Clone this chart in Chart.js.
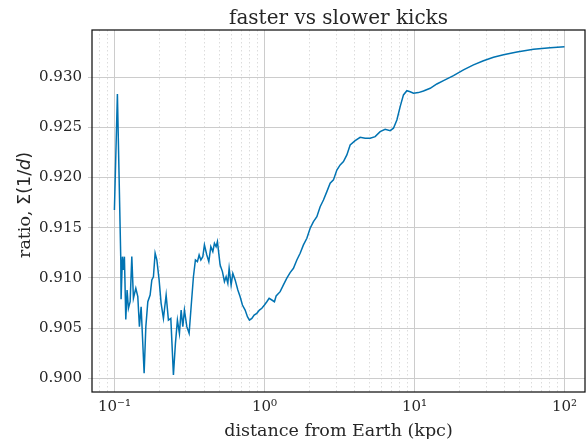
<!DOCTYPE html>
<html>
<head>
<meta charset="utf-8">
<script src="https://cdn.jsdelivr.net/npm/chart.js@4"></script>
<style>
html, body { margin: 0; padding: 0; background: #fff; }
</style>
</head>
<body>
<canvas id="c" width="588" height="439"></canvas>
<script>
// faster vs slower kicks - ratio vs distance (log x)

const distKpc = [
  0.1000, 0.1047, 0.1103, 0.1108, 0.1131, 0.1148, 0.1166, 0.1191, 0.1215, 0.1240,
  0.1273, 0.1306, 0.1339, 0.1389, 0.1432, 0.1468, 0.1507, 0.1578, 0.1620, 0.1670,
  0.1730, 0.1776, 0.1820, 0.1868, 0.1918, 0.1986, 0.2048, 0.2122, 0.2212, 0.2291,
  0.2377, 0.2474, 0.2551, 0.2630, 0.2713, 0.2785, 0.2858, 0.2929, 0.3039, 0.3148,
  0.3246, 0.3363, 0.3467, 0.3575, 0.3670, 0.3767, 0.3884, 0.3981, 0.4130, 0.4259,
  0.4392, 0.4529, 0.4642, 0.4764, 0.4860, 0.5066, 0.5248, 0.5412, 0.5555, 0.5702,
  0.5817, 0.5998, 0.6157, 0.6379, 0.6649, 0.6887, 0.7134, 0.7436, 0.7704, 0.7943,
  0.8241, 0.8540, 0.8897, 0.9261, 0.9609, 1.0000, 1.0375, 1.0748, 1.1203, 1.1659,
  1.1967, 1.2727, 1.3385, 1.4101, 1.4834, 1.5610, 1.6444, 1.7298, 1.8197, 1.9175,
  2.0170, 2.1221, 2.2356, 2.3515, 2.4738, 2.6062, 2.7416, 2.8840, 3.0392, 3.1971,
  3.3630, 3.5433, 3.7275, 4.0240, 4.3451, 4.6924, 5.0657, 5.4702, 5.9062, 6.3780,
  6.8865, 7.2444, 7.6338, 8.0297, 8.4468, 8.9001, 9.3623, 9.8477, 10.63, 11.48,
  12.73, 14.10, 15.61, 18.20, 21.22, 24.74, 28.84, 33.63, 39.21, 48.17,
  62.13, 80.28, 100.0
];

const ratio = [
  0.91677, 0.92834, 0.91179, 0.90787, 0.91212, 0.91080, 0.91212, 0.90587, 0.90879, 0.90697,
  0.90763, 0.91212, 0.90797, 0.90897, 0.90813, 0.90514, 0.90713, 0.90049, 0.90514, 0.90763,
  0.90830, 0.90980, 0.91012, 0.91246, 0.91179, 0.90980, 0.90747, 0.90597, 0.90830, 0.90580,
  0.90597, 0.90032, 0.90348, 0.90580, 0.90447, 0.90680, 0.90514, 0.90680, 0.90514, 0.90447,
  0.90713, 0.91012, 0.91179, 0.91162, 0.91229, 0.91179, 0.91212, 0.91329, 0.91229, 0.91162,
  0.91312, 0.91262, 0.91345, 0.91312, 0.91362, 0.91129, 0.91063, 0.90963, 0.91012, 0.90946,
  0.91096, 0.90930, 0.91046, 0.90980, 0.90880, 0.90813, 0.90730, 0.90680, 0.90613, 0.90580,
  0.90597, 0.90630, 0.90647, 0.90680, 0.90697, 0.90730, 0.90763, 0.90797, 0.90780, 0.90763,
  0.90820, 0.90863, 0.90930, 0.90997, 0.91053, 0.91096, 0.91179, 0.91246, 0.91329, 0.91395,
  0.91495, 0.91561, 0.91611, 0.91710, 0.91777, 0.91860, 0.91944, 0.91977, 0.92076, 0.92126,
  0.92159, 0.92226, 0.92325, 0.92368, 0.92402, 0.92392, 0.92392, 0.92408, 0.92458, 0.92482,
  0.92468, 0.92492, 0.92574, 0.92707, 0.92824, 0.92866, 0.92856, 0.92841, 0.92847, 0.92863,
  0.92890, 0.92933, 0.92966, 0.93016, 0.93073, 0.93123, 0.93165, 0.93199, 0.93225, 0.93252,
  0.93279, 0.93295, 0.93305
];

const yTicks = [0.900, 0.905, 0.910, 0.915, 0.920, 0.925, 0.930];
const xMajor = [0.1, 1, 10, 100];
const xMajorText = ['10⁻¹', '10⁰', '10¹', '10²'];
const chartTitle = 'faster vs slower kicks';

// minor grid positions (2..9 per decade) inside the visible range
const xMinor = [];
for (const dec of [0.01, 0.1, 1, 10]) {
  for (let k = 2; k <= 9; k++) {
    const v = +(k * dec).toPrecision(3);
    if (v > 0.071 && v < 137) xMinor.push(v);
  }
}

const serif = '"DejaVu Serif", serif';
const sans = '"DejaVu Sans", sans-serif';
const textColor = '#262626';

// black frame round the plot area + title centred over the axes
const frame = {
  id: 'frame',
  afterDatasetsDraw(chart) {
    const { ctx, chartArea: a } = chart;
    ctx.save();
    ctx.strokeStyle = '#111';
    ctx.lineWidth = 1.25;
    ctx.strokeRect(a.left, a.top, a.right - a.left, a.bottom - a.top);
    ctx.fillStyle = textColor;
    ctx.font = '20px ' + serif;
    ctx.textAlign = 'center';
    ctx.textBaseline = 'alphabetic';
    ctx.fillText(chartTitle, (a.left + a.right) / 2, a.top - 6);
    ctx.restore();
  }
};

// y label with an italic d
const yTitle = {
  id: 'yTitle',
  afterDraw(chart) {
    const { ctx, chartArea: a } = chart;
    const parts = [
      ['ratio, ', '17.5px ' + serif],
      ['Σ(1/', '17.5px ' + sans],
      ['d', 'oblique 17.5px ' + sans],
      [')', '17.5px ' + sans]
    ];
    ctx.save();
    ctx.fillStyle = textColor;
    ctx.textBaseline = 'middle';
    ctx.textAlign = 'left';
    let w = 0;
    for (const [t, f] of parts) { ctx.font = f; w += ctx.measureText(t).width; }
    ctx.translate(25, (a.top + a.bottom) / 2 - 6);
    ctx.rotate(-Math.PI / 2);
    let x = -w / 2;
    for (const [t, f] of parts) {
      ctx.font = f;
      ctx.fillText(t, x, 0);
      x += ctx.measureText(t).width;
    }
    ctx.restore();
  }
};

new Chart(document.getElementById('c').getContext('2d'), {
  type: 'scatter',
  data: {
    datasets: [{
      data: distKpc.map((d, i) => ({ x: d, y: ratio[i] })),
      showLine: true,
      borderColor: '#0173b2',
      borderWidth: 1.5,
      pointRadius: 0,
      tension: 0
    }]
  },
  options: {
    responsive: false,
    animation: false,
    layout: { padding: { left: 0, right: 3, top: 30, bottom: 0 } },
    plugins: {
      legend: { display: false },
      tooltip: { enabled: false },
      title: { display: false }
    },
    scales: {
      x: {
        type: 'logarithmic',
        min: 0.0709,
        max: 137,
        afterBuildTicks(scale) {
          scale.ticks = xMajor.map(v => ({ value: v, major: true }))
            .concat(xMinor.map(v => ({ value: v, major: false })));
        },
        afterFit(scale) { scale.height = 47; },
        ticks: {
          autoSkip: false,
          maxRotation: 0,
          padding: 6,
          color: textColor,
          font: { family: serif, size: 15 },
          callback: v => {
            const i = xMajor.indexOf(v);
            return i >= 0 ? xMajorText[i] : '';
          }
        },
        grid: {
          drawTicks: false,
          color: c => (c.tick && c.tick.major) ? '#cccccc' : '#dcdcdc',
          lineWidth: 1
        },
        border: {
          display: false,
          dash: c => (c.tick && !c.tick.major) ? [1.5, 2.5] : []
        },
        title: {
          display: true,
          text: 'distance from Earth (kpc)',
          color: textColor,
          font: { family: serif, size: 17.5 },
          padding: { top: 0, bottom: -3 }
        }
      },
      y: {
        min: 0.89863,
        max: 0.93471,
        afterBuildTicks(scale) {
          scale.ticks = yTicks.map(v => ({ value: v }));
        },
        afterFit(scale) { scale.width = 92; },
        ticks: {
          padding: 6,
          color: textColor,
          font: { family: serif, size: 15 },
          callback: v => v.toFixed(3)
        },
        grid: {
          color: '#cccccc',
          lineWidth: 1,
          tickLength: 4,
          tickColor: '#cccccc'
        },
        border: { display: false }
      }
    }
  },
  plugins: [frame, yTitle]
});
</script>
</body>
</html>
